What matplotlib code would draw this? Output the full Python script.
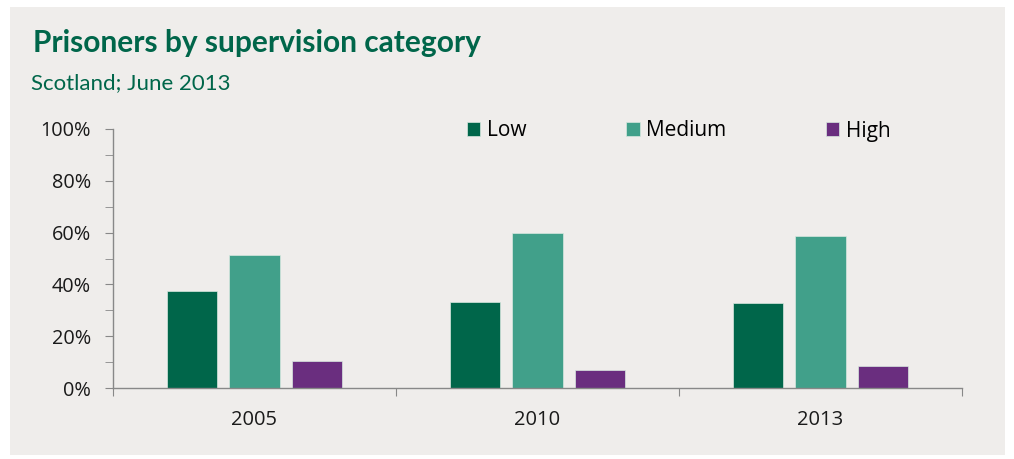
import matplotlib

matplotlib.use("Agg")
import matplotlib.pyplot as plt
import numpy as np
from matplotlib.patches import Rectangle
from matplotlib.ticker import MultipleLocator, PercentFormatter

years = ["2005", "2010", "2013"]
categories = ["Low", "Medium", "High"]
low = [37.5, 33.2, 32.8]
medium = [51.5, 59.8, 58.7]
high = [10.4, 7.0, 8.5]

colors = ["#00664A", "#41A08A", "#6A2E7F"]
GREEN = "#00664A"
BG = "#EFEDEB"

plt.rcParams["font.family"] = ["Open Sans", "DejaVu Sans"]

fig = plt.figure(figsize=(10.14, 4.59), dpi=100)
fig.patch.set_facecolor("white")
fig.patches.append(Rectangle((10 / 1014, 1 - 455 / 459), 995 / 1014, 448 / 459,
                             transform=fig.transFigure, facecolor=BG, edgecolor="none", zorder=-5))

ax = fig.add_axes([113 / 1014, 1 - 388 / 459, 849 / 1014, 259 / 459])
ax.patch.set_alpha(0)

x = np.arange(len(years))
width = 0.177
step = 0.222
for i, (name, vals) in enumerate(zip(categories, [low, medium, high])):
    ax.bar(x + (i - 1) * step, vals, width, color=colors[i], label=name,
           edgecolor="#d8e8e0", linewidth=0.5, zorder=2)

ax.set_xlim(-0.5, 2.5)
ax.set_ylim(0, 100)
ax.yaxis.set_major_locator(MultipleLocator(20))
ax.yaxis.set_minor_locator(MultipleLocator(10))
ax.yaxis.set_major_formatter(PercentFormatter(decimals=0))
ax.set_xticks([-0.5, 0.5, 1.5, 2.5])
ax.set_xticklabels([])
ax.set_xticks(x, minor=True)
ax.set_xticklabels(years, minor=True)
ax.tick_params(axis="x", which="minor", length=0, pad=16, labelsize=14.5, colors="#1a1a1a")
ax.tick_params(axis="x", which="major", length=6, color="#888888")
ax.tick_params(axis="y", which="both", length=6, color="#888888", labelsize=14.3,
               labelcolor="#1a1a1a", pad=10)

for s in ["top", "right"]:
    ax.spines[s].set_visible(False)
for s in ["left", "bottom"]:
    ax.spines[s].set_color("#888888")
    ax.spines[s].set_linewidth(1)

leg = ax.legend(loc="center left", bbox_to_anchor=(448 / 1014, 1 - 131 / 459),
                bbox_transform=fig.transFigure, ncol=3, frameon=False, fontsize=15,
                handlelength=0.65, handleheight=0.65, handletextpad=0.3, columnspacing=4.8)

fig.text(33 / 1014, 1 - 43 / 459, "Prisoners by supervision category", fontsize=21.5,
         fontweight="bold", color=GREEN, va="center", family=["Lato", "DejaVu Sans"])
fig.text(31 / 1014, 1 - 83 / 459, "Scotland; June 2013", fontsize=16, color=GREEN,
         va="center", family=["Lato", "DejaVu Sans"])

fig.savefig("out.png", dpi=100)
